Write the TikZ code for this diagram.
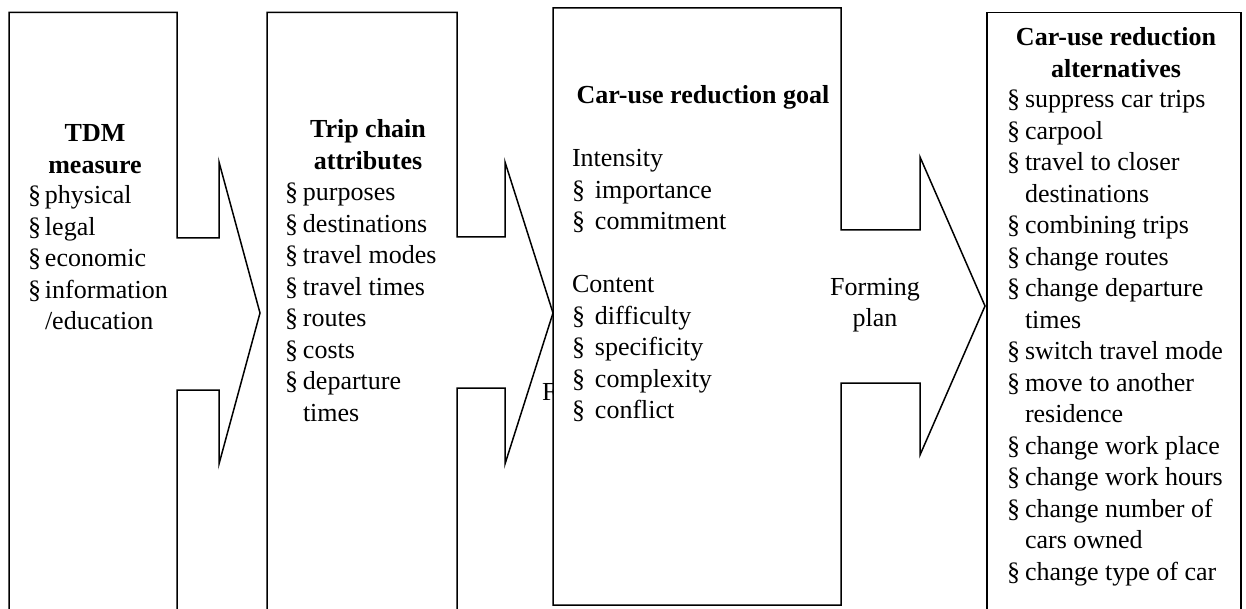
\documentclass[tikz,border=0pt]{standalone}
\usepackage{fontspec}
\setmainfont{Liberation Serif}
% section-sign bullet used in the lists
\newcommand{\bul}{\S}
\begin{document}
\begin{tikzpicture}[x=1pt,y=-1pt,
  every node/.style={inner sep=0pt, outer sep=0pt, font=\fontsize{26}{31.5}\selectfont},
  stage/.style={draw=black, line width=1.5pt, fill=white, line join=miter},
  head/.style={anchor=base, font=\fontsize{26}{31.5}\selectfont\bfseries},
  list/.style={anchor=base west}]
\useasboundingbox (0,0) rectangle (1246,609);
\clip (0,0) rectangle (1246,609);
\fill[white] (0,0) rectangle (1246,609);

% stage 1: TDM measure, box with arrow to the right
\draw[stage] (9,625) -- (9,12.5) -- (177,12.5) -- (177,238) -- (219,238) -- (219,162)
  -- (260,313) -- (219,464) -- (219,390) -- (177,390) -- (177,625);

% stage 2: trip chain attributes
\draw[stage] (267,625) -- (267,12.5) -- (457,12.5) -- (457,237) -- (505,237) -- (505,162)
  -- (553,313) -- (505,464) -- (505,388) -- (457,388) -- (457,625);

% label partly hidden behind stage 3
\node[list] (fhidden) at (542,400) {F};

% stage 3: goal box with arrow
\draw[stage] (553,8) -- (841,8) -- (841,230) -- (920,230) -- (920,157)
  -- (985,306) -- (920,455) -- (920,383) -- (841,383) -- (841,605) -- (553,605) -- cycle;

% stage 4: alternatives
\draw[stage] (987,625) -- (987,12.5) -- (1241,12.5) -- (1241,625);

% texts of stage 1
\node[head] (h1) at (95,142) {\begin{tabular}[t]{@{}c@{}}TDM\\measure\end{tabular}};
\node[list] (l1) at (28,204) {\begin{tabular}[t]{@{}p{17pt}@{}l@{}}
\bul & physical\\
\bul & legal\\
\bul & economic\\
\bul & information\\
 & /education
\end{tabular}};

% texts of stage 2
\node[head] (h2) at (368,138) {\begin{tabular}[t]{@{}c@{}}Trip chain\\attributes\end{tabular}};
\node[list] (l2) at (285,201) {\begin{tabular}[t]{@{}p{18pt}@{}l@{}}
\bul & purposes\\
\bul & destinations\\
\bul & travel modes\\
\bul & travel times\\
\bul & routes\\
\bul & costs\\
\bul & departure\\
 & times
\end{tabular}};

% texts of stage 3
\node[head] (h3) at (703,104) {Car-use reduction goal};
\node[list] (l3) at (572,167) {\begin{tabular}[t]{@{}p{23pt}@{}l@{}}
\multicolumn{2}{@{}l@{}}{Intensity}\\
\bul & importance\\
\bul & commitment\\
 & \\
\multicolumn{2}{@{}l@{}}{Content}\\
\bul & difficulty\\
\bul & specificity\\
\bul & complexity\\
\bul & conflict
\end{tabular}};

% label on the arrow of stage 3
\node[anchor=base] (plan) at (875,295) {\begin{tabular}[t]{@{}c@{}}Forming\\plan\end{tabular}};

% texts of stage 4
\node[head] (h4) at (1116,46) {\begin{tabular}[t]{@{}c@{}}Car-use reduction\\alternatives\end{tabular}};
\node[list] (l4) at (1007,108) {\begin{tabular}[t]{@{}p{18pt}@{}l@{}}
\bul & suppress car trips\\
\bul & carpool\\
\bul & travel to closer\\
 & destinations\\
\bul & combining trips\\
\bul & change routes\\
\bul & change departure\\
 & times\\
\bul & switch travel mode\\
\bul & move to another\\
 & residence\\
\bul & change work place\\
\bul & change work hours\\
\bul & change number of\\
 & cars owned\\
\bul & change type of car
\end{tabular}};
\end{tikzpicture}
\end{document}
